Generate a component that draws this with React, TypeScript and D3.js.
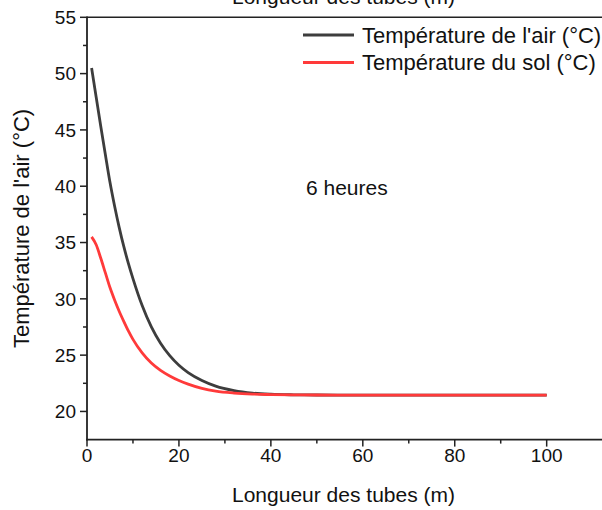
import React from "react";
import * as d3 from "d3";

const lengths = [1, 2, 3, 4, 5, 6, 7, 8, 9, 10, 12, 14, 16, 18, 20, 22, 25, 28, 32, 36, 40, 45, 50, 60, 70, 80, 90, 100];
const airTemp = [50.5, 47.9, 45.3, 42.8, 40.35, 38.25, 36.35, 34.65, 33.15, 31.8, 29.4, 27.5, 26.05, 24.95, 24.1, 23.45, 22.75, 22.25, 21.85, 21.63, 21.53, 21.48, 21.46, 21.45, 21.45, 21.45, 21.45, 21.45];
const soilTemp = [35.5, 34.8, 33.6, 32.3, 31.0, 29.9, 28.9, 28.0, 27.15, 26.4, 25.2, 24.3, 23.65, 23.15, 22.75, 22.43, 22.05, 21.8, 21.63, 21.54, 21.5, 21.47, 21.46, 21.45, 21.45, 21.45, 21.45, 21.45];
const xTicks = [0, 20, 40, 60, 80, 100];
const xMinorTicks = [10, 30, 50, 70, 90];
const yTicks = [20, 25, 30, 35, 40, 45, 50, 55];
const yMinorTicks = [22.5, 27.5, 32.5, 37.5, 42.5, 47.5, 52.5];
const seriesNames = ["Température de l'air (°C)", "Température du sol (°C)"];
const seriesColors = ["#3d3d3d", "#ff3a3a"];

const W = 602, H = 510;
const left = 87, right = 600, top = 17.3, bottom = 439.6;
const font = "'Liberation Sans', Arial, sans-serif";

export default function App() {
  const x = d3.scaleLinear().domain([0, 111.6]).range([left, right]);
  const y = d3.scaleLinear().domain([17.5, 55]).range([bottom, top]);
  const line = d3
    .line<[number, number]>()
    .x((d) => x(d[0]))
    .y((d) => y(d[1]))
    .curve(d3.curveMonotoneX);
  const series = [airTemp, soilTemp].map((vals) => lengths.map((l, i) => [l, vals[i]] as [number, number]));
  const axisColor = "#222";
  return (
    <svg width={W} height={H} style={{ position: "absolute", left: 0, top: 0, background: "#fff" }} fontFamily={font}>
      <rect x={0} y={0} width={W} height={H} fill="#fff" />
      {/* cropped top title */}
      <text x={(left + right) / 2} y={4} textAnchor="middle" fontSize={21} fill="#111">
        Longueur des tubes (m)
      </text>
      {/* frame top */}
      <line x1={left} x2={W} y1={top} y2={top} stroke={axisColor} strokeWidth={1.6} />
      {/* curves */}
      {series.map((s, i) => (
        <path key={i} d={line(s) || ""} fill="none" stroke={seriesColors[i]} strokeWidth={2.8} strokeLinejoin="round" />
      ))}
      {/* axes */}
      <line x1={left} x2={left} y1={top - 0.8} y2={bottom + 0.8} stroke={axisColor} strokeWidth={1.8} />
      <line x1={left - 0.8} x2={W} y1={bottom} y2={bottom} stroke={axisColor} strokeWidth={1.8} />
      {yTicks.map((t) => (
        <g key={"y" + t}>
          <line x1={left - 7} x2={left} y1={y(t)} y2={y(t)} stroke={axisColor} strokeWidth={1.5} />
          <text x={left - 11} y={y(t)} dy="0.36em" textAnchor="end" fontSize={19} fill="#111">
            {t}
          </text>
        </g>
      ))}
      {yMinorTicks.map((t) => (
        <line key={"ym" + t} x1={left - 4} x2={left} y1={y(t)} y2={y(t)} stroke={axisColor} strokeWidth={1.5} />
      ))}
      {xTicks.map((t) => (
        <g key={"x" + t}>
          <line x1={x(t)} x2={x(t)} y1={bottom} y2={bottom + 7} stroke={axisColor} strokeWidth={1.5} />
          <text x={x(t)} y={bottom + 22} textAnchor="middle" fontSize={19} fill="#111">
            {t}
          </text>
        </g>
      ))}
      {xMinorTicks.map((t) => (
        <line key={"xm" + t} x1={x(t)} x2={x(t)} y1={bottom} y2={bottom + 4} stroke={axisColor} strokeWidth={1.5} />
      ))}
      {/* axis titles */}
      <text x={(left + right) / 2} y={502} textAnchor="middle" fontSize={21} fill="#111">
        Longueur des tubes (m)
      </text>
      <text transform={`translate(29, ${(top + bottom) / 2}) rotate(-90)`} textAnchor="middle" fontSize={22} fill="#111">
        Température de l'air (°C)
      </text>
      {/* legend */}
      {seriesNames.map((n, i) => (
        <g key={n}>
          <line x1={303} x2={354} y1={35 + i * 27.5} y2={35 + i * 27.5} stroke={seriesColors[i]} strokeWidth={2.8} />
          <text x={362} y={35 + i * 27.5} dy="0.36em" fontSize={22} fill="#111">
            {n}
          </text>
        </g>
      ))}
      <text x={306} y={187} dy="0.36em" fontSize={21} fill="#111">
        6 heures
      </text>
    </svg>
  );
}
